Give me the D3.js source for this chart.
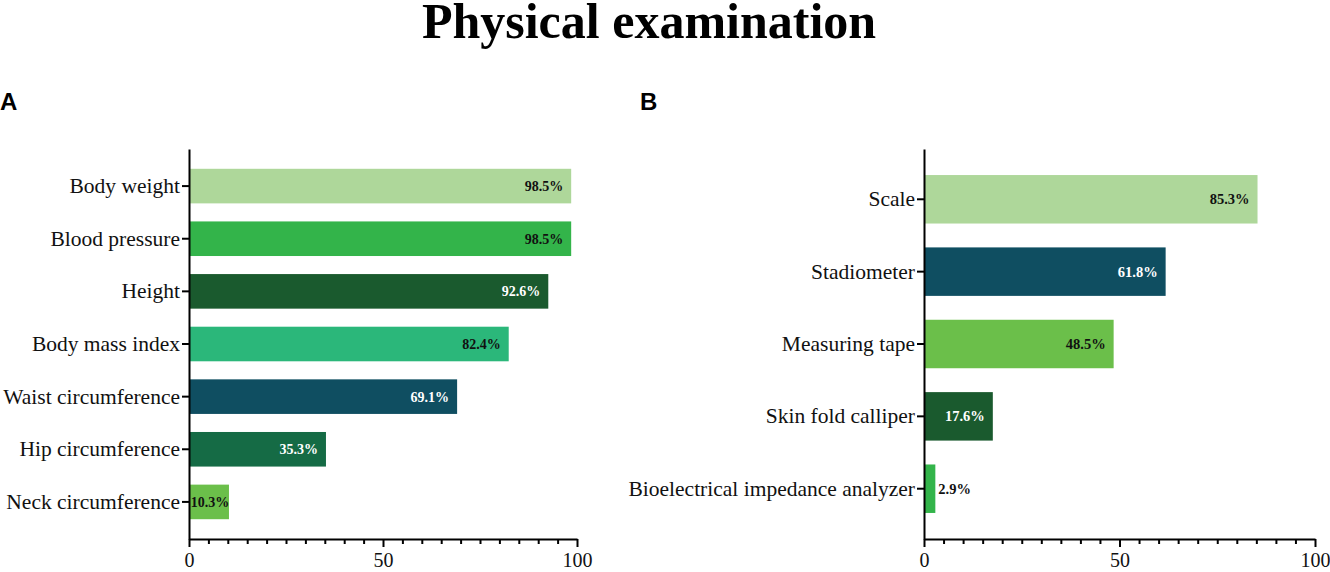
<!DOCTYPE html>
<html>
<head>
<meta charset="utf-8">
<script src="https://cdn.jsdelivr.net/npm/d3@7"></script>
<style>
    body { margin: 0; background: #fff; }
    svg { display: block; }
</style>
</head>
<body>
<svg width="1330" height="572"></svg>
<script>
// --- Data ---
const examCategories = ["Body weight", "Blood pressure", "Height", "Body mass index",
    "Waist circumference", "Hip circumference", "Neck circumference"];
const examValues = [98.5, 98.5, 92.6, 82.4, 69.1, 35.3, 10.3];

const toolCategories = ["Scale", "Stadiometer", "Measuring tape", "Skin fold calliper",
    "Bioelectrical impedance analyzer"];
const toolValues = [85.3, 61.8, 48.5, 17.6, 2.9];

const xTickValues = [0, 50, 100];
const xMinorStep = 5;

// bar palette (one per bar, in order)
const examColors = ["#aed79a", "#33b44a", "#1a5a2e", "#2bb77a", "#0f4e61", "#156b45", "#6bbf4a"];
const toolColors = ["#aed79a", "#0f4e61", "#6bbf4a", "#1a5a2e", "#33b44a"];

const serif = "'Liberation Serif', 'Times New Roman', serif";
const sans = "'Liberation Sans', Arial, sans-serif";

const svg = d3.select("svg");

// Title
svg.append("text")
    .attr("x", 649).attr("y", 38)
    .attr("text-anchor", "middle")
    .style("font-family", serif)
    .style("font-weight", "bold")
    .style("font-size", "50px")
    .text("Physical examination");

// Panel letters
svg.append("text").attr("x", 0).attr("y", 110)
    .style("font-family", sans).style("font-weight", "bold").style("font-size", "24px")
    .text("A");
svg.append("text").attr("x", 640).attr("y", 110)
    .style("font-family", sans).style("font-weight", "bold").style("font-size", "24px")
    .text("B");

function drawPanel(opts) {
    const { categories, values, colors, left, right, top, bottom,
            padInner, padOuter, labelSize } = opts;
    const g = svg.append("g");

    const x = d3.scaleLinear().domain([0, 100]).range([left, right]);
    const y = d3.scaleBand().domain(categories).range([top, bottom])
        .paddingInner(padInner).paddingOuter(padOuter);

    // --- Bars ---
    g.append("g").selectAll("rect")
        .data(values)
        .enter().append("rect")
        .attr("x", x(0))
        .attr("y", (d, i) => y(categories[i]))
        .attr("width", d => x(d) - x(0))
        .attr("height", y.bandwidth())
        .attr("fill", (d, i) => colors[i]);

    // --- Value labels ---
    g.append("g").selectAll("text")
        .data(values)
        .enter().append("text")
        .attr("y", (d, i) => y(categories[i]) + y.bandwidth() / 2)
        .attr("dy", "0.35em")
        .style("font-family", serif)
        .style("font-weight", "bold")
        .style("font-size", labelSize + "px")
        .attr("fill", (d, i) => d3.lab(colors[i]).l < 55 ? "#fff" : "#111")
        .text(d => d.toFixed(1) + "%")
        .each(function(d) {
            const t = d3.select(this);
            const w = this.getComputedTextLength();
            const barW = x(d) - x(0);
            if (w + 16 <= barW) {
                t.attr("x", x(d) - 8).attr("text-anchor", "end");
            } else if (w <= barW + 4) {
                t.attr("x", x(0) + barW / 2 + 1).attr("text-anchor", "middle");
            } else {
                t.attr("x", x(d) + 3).attr("text-anchor", "start").attr("fill", "#111");
            }
        });

    // --- Axes ---
    const yAxis = g.append("g")
        .attr("transform", `translate(${left},0)`)
        .call(d3.axisLeft(y).tickSize(7).tickSizeOuter(0).tickPadding(2));
    yAxis.selectAll("text")
        .style("font-family", serif).style("font-size", "21.5px").attr("fill", "#111");

    const minor = d3.range(0, 101, xMinorStep).filter(v => !xTickValues.includes(v));
    const xMinor = g.append("g")
        .attr("transform", `translate(0,${bottom})`)
        .call(d3.axisBottom(x).tickValues(minor).tickSize(5).tickSizeOuter(0).tickFormat(""));
    xMinor.select(".domain").remove();

    const xAxis = g.append("g")
        .attr("transform", `translate(0,${bottom})`)
        .call(d3.axisBottom(x).tickValues(xTickValues).tickSize(8).tickSizeOuter(0).tickPadding(6));
    xAxis.selectAll("text")
        .style("font-family", serif).style("font-size", "20px").attr("fill", "#111");

    g.selectAll(".domain").attr("stroke", "#000").attr("stroke-width", 2);
    g.selectAll(".tick line").attr("stroke", "#000").attr("stroke-width", 2);
}

drawPanel({
    categories: examCategories, values: examValues, colors: examColors,
    left: 189, right: 577, top: 149, bottom: 539,
    padInner: 0.343, padOuter: 0.376, labelSize: 14
});

drawPanel({
    categories: toolCategories, values: toolValues, colors: toolColors,
    left: 924, right: 1315, top: 149, bottom: 539,
    padInner: 0.33, padOuter: 0.36, labelSize: 14.5
});
</script>
</body>
</html>
